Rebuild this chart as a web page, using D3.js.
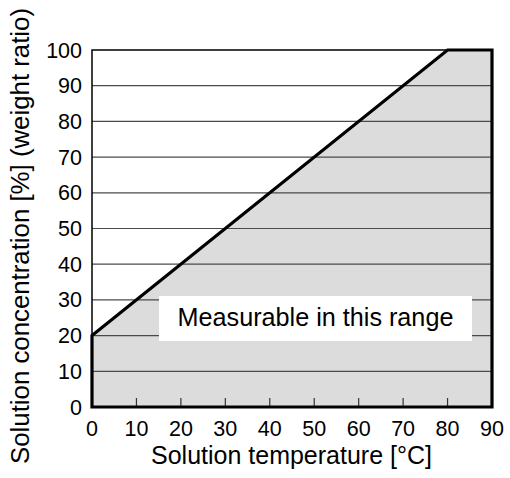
<!DOCTYPE html>
<html>
<head>
<meta charset="utf-8">
<script src="https://cdn.jsdelivr.net/npm/d3@7"></script>
<style>
  html, body { margin: 0; padding: 0; background: #fff; }
  svg { display: block; font-family: "Liberation Sans", Arial, sans-serif; }
</style>
</head>
<body>
<svg id="chart" width="510" height="478"></svg>
<script>
// Measurable range boundary: concentration limit vs. temperature
const boundaryTemp = [0, 0, 80, 90, 90];
const boundaryConc = [0, 20, 100, 100, 0];

const xTicks = [0, 10, 20, 30, 40, 50, 60, 70, 80, 90];
const yTicks = [0, 10, 20, 30, 40, 50, 60, 70, 80, 90, 100];

const xTitle = "Solution temperature [°C]";
const yTitle = "Solution concentration [%] (weight ratio)";
const rangeLabel = "Measurable in this range";

const svg = d3.select("#chart");
const margin = { left: 92, right: 18, top: 50, bottom: 71 };
const W = 510, H = 478;

const x = d3.scaleLinear().domain([0, 90]).range([margin.left, W - margin.right]);
const y = d3.scaleLinear().domain([0, 100]).range([H - margin.bottom, margin.top]);

// shaded region
const pts = boundaryTemp.map((t, i) => [x(t), y(boundaryConc[i])]);
svg.append("path")
  .attr("d", d3.line()(pts) + "Z")
  .attr("fill", "#dcdcdc");

// horizontal gridlines
svg.append("g").selectAll("line")
  .data(yTicks.filter(v => v > 0 && v < 100))
  .join("line")
  .attr("x1", x(0)).attr("x2", x(90))
  .attr("y1", d => y(d)).attr("y2", d => y(d))
  .attr("stroke", "#4a4a4a").attr("stroke-width", 1.2);

// label box
svg.append("rect")
  .attr("x", 159).attr("y", 296).attr("width", 313).attr("height", 45)
  .attr("fill", "#fff");
svg.append("text")
  .attr("x", 315.5).attr("y", 326)
  .attr("text-anchor", "middle")
  .attr("font-size", 25.2).attr("fill", "#000")
  .text(rangeLabel);

// thin plot frame
svg.append("rect")
  .attr("x", x(0)).attr("y", y(100))
  .attr("width", x(90) - x(0)).attr("height", y(0) - y(100))
  .attr("fill", "none").attr("stroke", "#000").attr("stroke-width", 1.5);

// inward x tick marks
svg.append("g").selectAll("line")
  .data(xTicks.filter(v => v > 0 && v < 90))
  .join("line")
  .attr("x1", d => x(d)).attr("x2", d => x(d))
  .attr("y1", y(0)).attr("y2", y(0) - 9)
  .attr("stroke", "#333").attr("stroke-width", 1.2);

// thick boundary outline
svg.append("path")
  .attr("d", d3.line()(pts) + "Z")
  .attr("fill", "none").attr("stroke", "#000")
  .attr("stroke-width", 3.2).attr("stroke-linejoin", "miter");

// x tick labels
svg.append("g").selectAll("text")
  .data(xTicks)
  .join("text")
  .attr("x", d => x(d)).attr("y", y(0) + 29)
  .attr("text-anchor", "middle")
  .attr("font-size", 21.5).attr("fill", "#000")
  .text(d => d);

// y tick labels
svg.append("g").selectAll("text")
  .data(yTicks)
  .join("text")
  .attr("x", x(0) - 10).attr("y", d => y(d) + 7.5)
  .attr("text-anchor", "end")
  .attr("font-size", 21.5).attr("fill", "#000")
  .text(d => d);

// axis titles
svg.append("text")
  .attr("x", 291.5).attr("y", 464)
  .attr("text-anchor", "middle")
  .attr("font-size", 25).attr("fill", "#000")
  .text(xTitle);

svg.append("text")
  .attr("transform", `translate(29, 236) rotate(-90)`)
  .attr("text-anchor", "middle")
  .attr("font-size", 25.8).attr("fill", "#000")
  .text(yTitle);
</script>
</body>
</html>
